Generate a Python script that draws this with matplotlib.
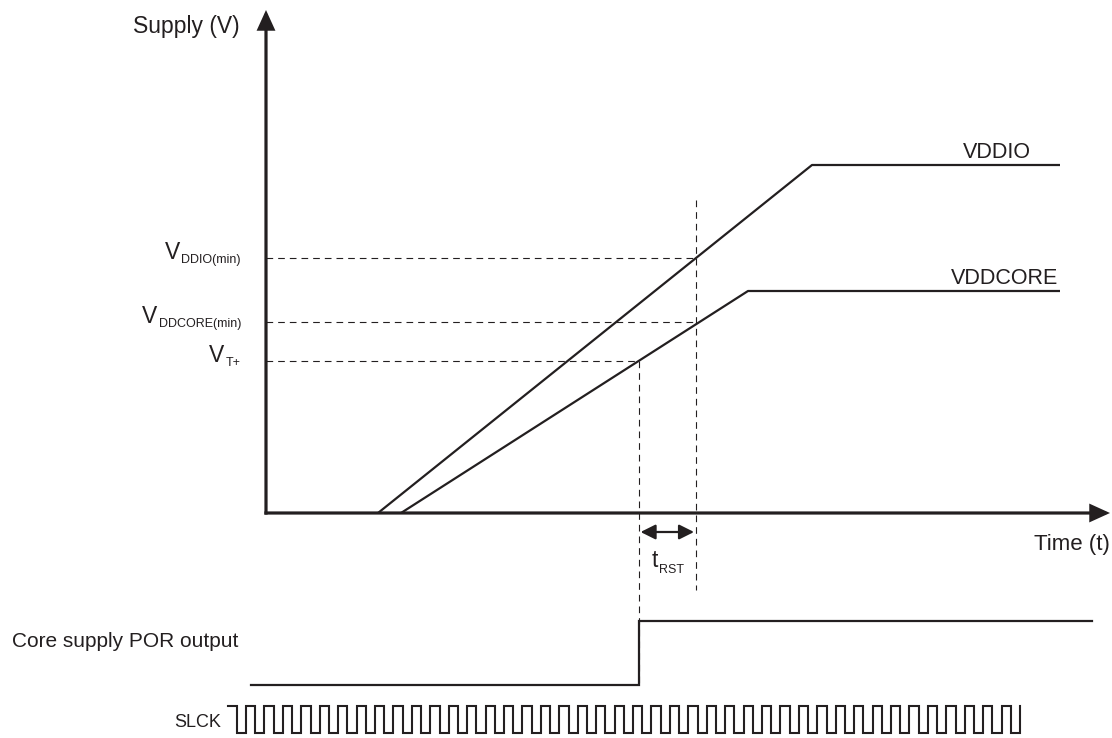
import numpy as np
import matplotlib
matplotlib.use("Agg")
import matplotlib.pyplot as plt

plt.rcParams["font.family"] = ["Liberation Sans", "DejaVu Sans"]

INK = "#231f20"

# supply ramps (time units, volt units)
vddio_t = [112, 546, 794]
vddio_v = [0, 348, 348]
vddcore_t = [135, 482, 794]
vddcore_v = [0, 222, 222]

# thresholds
v_ddio_min = 255
v_ddcore_min = 191
v_t_plus = 152

# axis extents
t_axis_end = 844
v_axis_end = 503

# POR output
por_low = -172
por_high = -108
por_start = -15
por_end = 826

# slow clock
slck_low = -220
slck_high = -193
slck_start = -38
slck_first_fall = -29
slck_first_rise = -20
slck_period = 18.43
slck_cycles = 43

# crossings used for the timing marks
t_vt = np.interp(v_t_plus, vddcore_v[:2], vddcore_t[:2])
t_rst_end = np.interp(v_ddio_min, vddio_v[:2], vddio_t[:2])

fig = plt.figure(figsize=(11.12, 7.38), dpi=100)
ax = fig.add_axes([0, 0, 1, 1])
ax.set_xlim(-266, 846)
ax.set_ylim(-225, 513)
ax.axis("off")

# axes with arrows
axis_arrow = dict(arrowstyle="-|>,head_length=0.55,head_width=0.25",
                  lw=2.3, color=INK, mutation_scale=20,
                  shrinkA=0, shrinkB=0, capstyle="butt", joinstyle="miter")
ax.annotate("", xy=(0, v_axis_end), xytext=(0, -1.6), arrowprops=axis_arrow)
ax.annotate("", xy=(t_axis_end, 0), xytext=(-1.6, 0), arrowprops=axis_arrow)

# supplies
ax.plot(vddio_t, vddio_v, color=INK, lw=1.6, solid_capstyle="butt")
ax.plot(vddcore_t, vddcore_v, color=INK, lw=1.6, solid_capstyle="butt")

# dashed guides
dash = dict(color=INK, lw=0.8, linestyle=(0, (6, 4.5)))
ax.plot([0, t_rst_end], [v_ddio_min, v_ddio_min], **dash)
ax.plot([0, t_rst_end], [v_ddcore_min, v_ddcore_min], **dash)
ax.plot([0, t_vt], [v_t_plus, v_t_plus], **dash)
ax.plot([t_vt, t_vt], [v_t_plus, por_low], **dash)
ax.plot([t_rst_end, t_rst_end], [313, -77], **dash)

# t_RST arrow
ax.annotate("", xy=(t_rst_end - 2, -19), xytext=(t_vt + 2, -19),
            arrowprops=dict(arrowstyle="<|-|>,head_length=0.6,head_width=0.3",
                            lw=1.6, color=INK, mutation_scale=15,
                            shrinkA=0, shrinkB=0))

# POR output
ax.plot([por_start, t_vt, t_vt, por_end],
        [por_low, por_low, por_high, por_high],
        color=INK, lw=1.6, solid_joinstyle="miter")

# SLCK waveform
rises = slck_first_rise + slck_period * np.arange(slck_cycles)
falls = rises[:-1] + slck_period / 2
xs = [slck_start, slck_first_fall, slck_first_fall]
ys = [slck_high, slck_high, slck_low]
for r, f in zip(rises[:-1], falls):
    xs += [r, r, f, f]
    ys += [slck_low, slck_high, slck_high, slck_low]
xs += [rises[-1], rises[-1]]
ys += [slck_low, slck_high]
ax.plot(xs, ys, color=INK, lw=1.5, solid_joinstyle="miter")

# labels
fs = 15.5
ax.text(-26, 480, "Supply (V)", fontsize=16.5, ha="right", va="baseline", color=INK)
ax.text(844, -37, "Time (t)", fontsize=16, ha="right", va="baseline", color=INK)
ax.text(765, 355, "VDDIO", fontsize=fs, ha="right", va="baseline", color=INK)
ax.text(792, 229, "VDDCORE", fontsize=fs, ha="right", va="baseline", color=INK)
ax.text(-254, -134, "Core supply POR output", fontsize=15, ha="left",
        va="baseline", color=INK)
ax.text(-45, -214, "SLCK", fontsize=13, ha="right", va="baseline", color=INK)


def sub_label(level, sub):
    s = ax.text(-25, level - 5, sub, fontsize=9, ha="right", va="baseline",
                color=INK)
    ax.annotate("V", xy=(0, level - 1), xycoords=(s, "data"),
                xytext=(-1, 0), textcoords="offset points",
                fontsize=16.5, ha="right", va="baseline", color=INK)


sub_label(v_ddio_min, "DDIO(min)")
sub_label(v_ddcore_min, "DDCORE(min)")
sub_label(v_t_plus, "T+")

t_txt = ax.text(386, -54, "t", fontsize=16.5, ha="left", va="baseline", color=INK)
ax.annotate("RST", xy=(1, -60), xycoords=(t_txt, "data"),
            xytext=(0.5, 0), textcoords="offset points",
            fontsize=9, ha="left", va="baseline", color=INK)

fig.savefig("out.png", dpi=100, facecolor="white")
